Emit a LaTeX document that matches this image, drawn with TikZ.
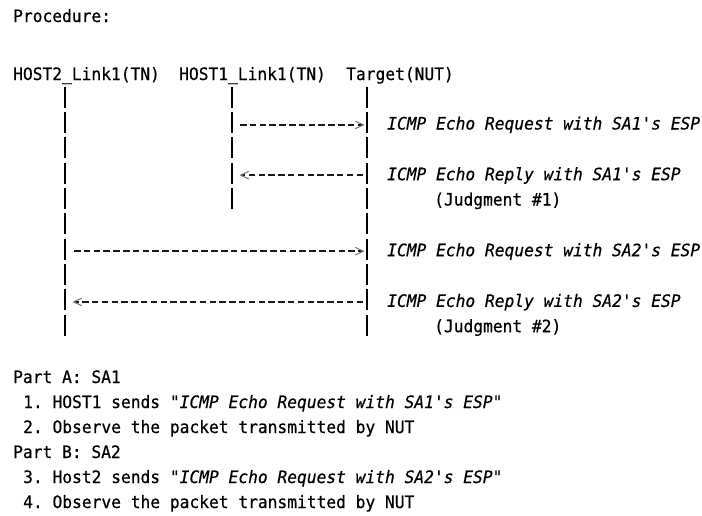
\documentclass[tikz,border=0pt]{standalone}
\usepackage{fontspec}
\setmonofont[FakeStretch=0.95,FakeBold=0.6,Ligatures=TeXOff]{DejaVu Sans Mono}
\usetikzlibrary{arrows.meta}
\begin{document}
\begin{tikzpicture}[x=1pt,y=-1pt,
  txt/.style={anchor=base west, inner sep=0pt, font=\ttfamily\fontsize{17.1}{20}\selectfont},
  lifeline/.style={line width=1.8pt, black, dash pattern=on 21pt off 4.33pt},
  msg/.style={line width=1.6pt, black!90, dash pattern=on 6.5pt off 3.3pt,
    -{Straight Barb[length=8pt,width=7.5pt,line width=1pt,color=black!55]}}]
\useasboundingbox (0,0) rectangle (702,515);

% titles and headers
\node[txt] (proc)  at (13,22) {Procedure:};
\node[txt] (host2) at (13,80) {HOST2\_Link1(TN)};
\node[txt] (host1) at (179,80) {HOST1\_Link1(TN)};
\node[txt] (nut)   at (346,80) {Target(NUT)};

% lifelines
\coordinate (h2top) at (65,86.7);
\coordinate (h2bot) at (65,335.7);
\coordinate (h1top) at (231.7,86.7);
\coordinate (h1bot) at (231.7,209);
\coordinate (nuttop) at (367.3,86.7);
\coordinate (nutbot) at (367.3,335.7);
\draw[lifeline] (h2top) -- (h2bot);
\draw[lifeline] (h1top) -- (h1bot);
\draw[lifeline] (nuttop) -- (nutbot);

% message end points
\coordinate (m1s) at (240,124.9);   \coordinate (m1e) at (364.5,124.9);
\coordinate (m2s) at (363,175.2);   \coordinate (m2e) at (239.5,175.2);
\coordinate (m3s) at (74,251.2);    \coordinate (m3e) at (364.5,251.2);
\coordinate (m4s) at (363,301.9);   \coordinate (m4e) at (72.5,301.9);
\draw[msg] (m1s) -- (m1e);
\draw[msg] (m2s) -- (m2e);
\draw[msg] (m3s) -- (m3e);
\draw[msg] (m4s) -- (m4e);

% message labels
\node[txt] (l1) at (387,129.5) {\itshape ICMP Echo Request with SA1's ESP};
\node[txt] (l2) at (387,180.2) {\itshape ICMP Echo Reply with SA1's ESP};
\node[txt] (j1) at (434,205.5) {(Judgment \#1)};
\node[txt] (l3) at (387,256.2) {\itshape ICMP Echo Request with SA2's ESP};
\node[txt] (l4) at (387,306.9) {\itshape ICMP Echo Reply with SA2's ESP};
\node[txt] (j2) at (434,332.2) {(Judgment \#2)};

% steps
\node[txt] (pa) at (13,383) {Part A: SA1};
\node[txt] (s1) at (23,408) {1. HOST1 sends \textit{"ICMP Echo Request with SA1's ESP"}};
\node[txt] (s2) at (23,433) {2. Observe the packet transmitted by NUT};
\node[txt] (pb) at (13,458) {Part B: SA2};
\node[txt] (s3) at (23,483) {3. Host2 sends \textit{"ICMP Echo Request with SA2's ESP"}};
\node[txt] (s4) at (23,508) {4. Observe the packet transmitted by NUT};
\end{tikzpicture}
\end{document}
